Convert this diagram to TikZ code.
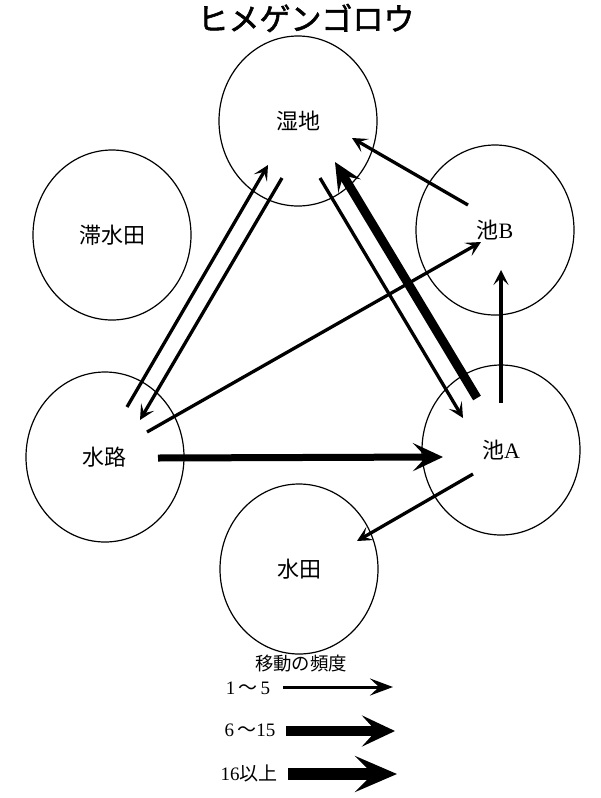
\documentclass[tikz,border=0pt]{standalone}
\usepackage{fontspec}
\setmainfont{Liberation Serif}
\newfontfamily\cjk{Noto Sans CJK JP}
\newfontfamily\cjktitle[FakeBold=1.8]{Noto Sans CJK JP}
\usetikzlibrary{arrows.meta,shapes.geometric}
\tikzset{
  habitat/.style={draw, line width=0.6pt, ellipse, minimum width=79pt, minimum height=85pt, inner sep=0pt, font=\cjk\fontsize{11}{11}\selectfont},
  thinarrow/.style={line width=1.65pt, -{Stealth[length=7.5pt,width=7.5pt,inset=3.5pt]}},
  midarrow/.style={line width=3.5pt, -{Stealth[length=15pt,width=14pt,inset=6.5pt]}},
  thickarrow/.style={line width=4.5pt, -{Stealth[length=14pt,width=13pt,inset=6pt]}},
  lgthin/.style={line width=1.5pt, -{Stealth[length=11.5pt,width=8.5pt,inset=4.5pt]}},
  lgmid/.style={line width=5pt, -{Stealth[length=16.5pt,width=15.5pt,inset=7pt]}},
  lgthick/.style={line width=6.25pt, -{Stealth[length=21pt,width=18pt,inset=9pt]}},
  lgtext/.style={inner sep=0pt, font=\fontsize{9.5}{9.5}\selectfont},
}
\begin{document}
\begin{tikzpicture}[x=0.5pt, y=-0.5pt]
\useasboundingbox (0,0) rectangle (600,798);
% title
\node[inner sep=0pt, font=\cjktitle\fontsize{15.5}{15.5}\selectfont] (title) at (306,18) {ヒメゲンゴロウ};
% habitats
\node[habitat] (S) at (298,121) {湿地};
\node[habitat] (T) at (112,235) {滞水田};
\node[habitat] (B) at (495,230) {\cjk 池\rmfamily B};
\node[habitat] (R) at (105,457) {水路};
\node[habitat] (A) at (501,450) {\cjk 池\rmfamily A};
\node[habitat] (D) at (299,569) {水田};
% movements
\draw[thinarrow] ([shift={(22,-50)}]R.center) -- ([shift={(-30,44)}]S.center);
\draw[thinarrow] ([shift={(-16,57)}]S.center) -- ([shift={(35,-37)}]R.center);
\draw[thinarrow] ([shift={(22,57)}]S.center) -- ([shift={(-38,-32)}]A.center);
\draw[thickarrow] ([shift={(-24,-52)}]A.center) -- ([shift={(37,41)}]S.center);
\draw[thinarrow] ([shift={(-27,-25)}]B.center) -- ([shift={(54,17)}]S.center);
\draw[thinarrow] ([shift={(42,-25)}]R.center) -- ([shift={(-14,12)}]B.center);
\draw[thinarrow] ([shift={(0,-47)}]A.center) -- ([shift={(6,40)}]B.center);
\draw[midarrow] ([shift={(53,1)}]R.center) -- ([shift={(-58,7)}]A.center);
\draw[thinarrow] ([shift={(-28,24)}]A.center) -- ([shift={(58,-28)}]D.center);
% legend
\node[lgtext, font=\cjk\fontsize{9.2}{9.2}\selectfont] (lgtitle) at (301,664) {移動の頻度};
\node[lgtext] (l1) at (248,688) {1\,{\cjk ～}\,5};
\node[lgtext] (l2) at (250,730) {6\,{\cjk ～}15};
\node[lgtext] (l3) at (249,773) {16{\cjk 以上}};
\coordinate (a1s) at (283,687); \coordinate (a1e) at (393,687);
\coordinate (a2s) at (286,731); \coordinate (a2e) at (395,731);
\coordinate (a3s) at (288,774); \coordinate (a3e) at (397,774);
\draw[lgthin] (a1s) -- (a1e);
\draw[lgmid] (a2s) -- (a2e);
\draw[lgthick] (a3s) -- (a3e);
\end{tikzpicture}
\end{document}
